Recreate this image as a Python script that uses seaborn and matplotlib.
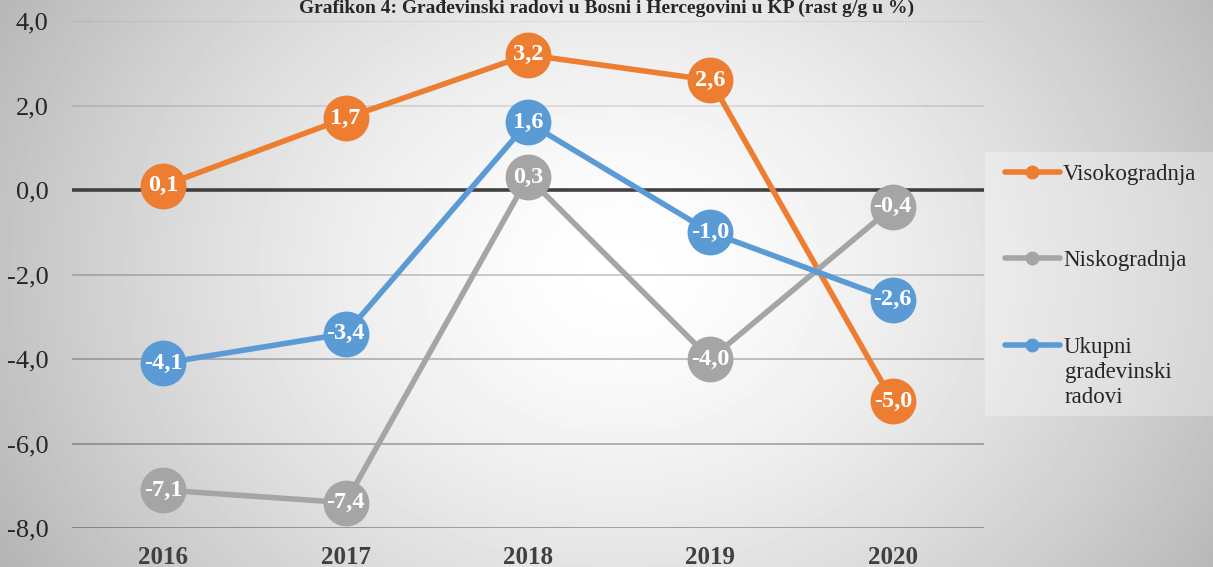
import matplotlib.pyplot as plt
import numpy as np
import pandas as pd
import seaborn as sns
from matplotlib.lines import Line2D
from matplotlib.patches import Rectangle

# data
years = ["2016", "2017", "2018", "2019", "2020"]
visokogradnja = [0.1, 1.7, 3.2, 2.6, -5.0]
niskogradnja = [-7.1, -7.4, 0.3, -4.0, -0.4]
ukupni = [-4.1, -3.4, 1.6, -1.0, -2.6]
series_names = ["Visokogradnja", "Niskogradnja", "Ukupni građevinski radovi"]
colors = ["#ED7D31", "#A5A5A5", "#5B9BD5"]
y_ticks = [4.0, 2.0, 0.0, -2.0, -4.0, -6.0, -8.0]

df = pd.DataFrame({"year": years * 3,
                   "value": visokogradnja + niskogradnja + ukupni,
                   "series": [s for s in series_names for _ in years]})

sns.set_style("white")
plt.rcParams["font.family"] = ["Liberation Serif", "DejaVu Serif"]

W, H = 1213, 567
fig = plt.figure(figsize=(W / 100, H / 100), dpi=100)

# radial grey gradient background
bg = fig.add_axes([0, 0, 1, 1], zorder=-10)
yy, xx = np.mgrid[0:H, 0:W]
r = np.sqrt(((xx - 620) / 760.0) ** 2 + ((yy - 270) / 620.0) ** 2)
shade = 1.0 - 0.32 * np.clip(r, 0, 1) ** 1.5
bg.imshow(shade, cmap="gray", vmin=0, vmax=1, aspect="auto", extent=[0, 1, 0, 1])
bg.axis("off")

ax = fig.add_axes([72 / W, 1 - 528 / H, (984 - 72) / W, (528 - 21) / H])
ax.patch.set_alpha(0)

x = np.arange(len(years))
for i, yv in enumerate(y_ticks):
    if yv == 0:
        ax.axhline(yv, color="#404040", lw=2.6, zorder=1)
    else:
        ax.axhline(yv, color="black", lw=1.2, alpha=0.07 + 0.05 * i, zorder=1)

for k, name in enumerate(series_names):
    sub = df[df["series"] == name]
    sns.lineplot(data=sub, x="year", y="value", ax=ax, color=colors[k],
                 lw=4, marker="o", markersize=33, markeredgewidth=0, sort=False,
                 zorder=3 + k, legend=False)
    for xi, v in zip(x, sub["value"]):
        ax.text(xi, v, f"{v:.1f}".replace(".", ","), ha="center", va="center",
                color="white", fontsize=17.5, fontweight="bold", zorder=10)

ax.set_xlim(-0.5, 4.5)
ax.set_ylim(-8, 4)
ax.set_yticks(y_ticks)
ax.set_yticklabels([f"{v:.1f}".replace(".", ",") for v in y_ticks], fontsize=19)
ax.set_xticks(x)
ax.set_xticklabels(years, fontsize=18, fontweight="bold", color="#404040")
ax.tick_params(axis="y", pad=17, length=0)
ax.tick_params(axis="x", pad=13, length=0)
ax.set_xlabel("")
ax.set_ylabel("")
sns.despine(ax=ax, left=True, bottom=True)

# legend box
fig.patches.append(Rectangle((985 / W, 1 - 416 / H), (W - 985) / W, (416 - 152) / H,
                             transform=fig.transFigure, facecolor="white", alpha=0.3,
                             edgecolor="none", zorder=0))

handles = [Line2D([], [], color=c, lw=4, marker="o", markersize=9) for c in colors]
leg = fig.legend(handles, ["Visokogradnja", "Niskogradnja", "Ukupni"], loc="upper left",
                 bbox_to_anchor=(984 / W, 1 - 143 / H), frameon=False, fontsize=16.5,
                 handlelength=2.4, handletextpad=0.15, labelspacing=2.86, borderpad=0.4)
fig.text(1065 / W, 1 - 385 / H, "građevinski\nradovi", ha="left", va="center",
         fontsize=16.5, linespacing=1.2)

fig.text(0.5, 1.0, "Grafikon 4: Građevinski radovi u Bosni i Hercegovini u KP (rast g/g u %)",
         ha="center", va="top", fontsize=14, fontweight="bold")

fig.savefig("out.png", dpi=100)
